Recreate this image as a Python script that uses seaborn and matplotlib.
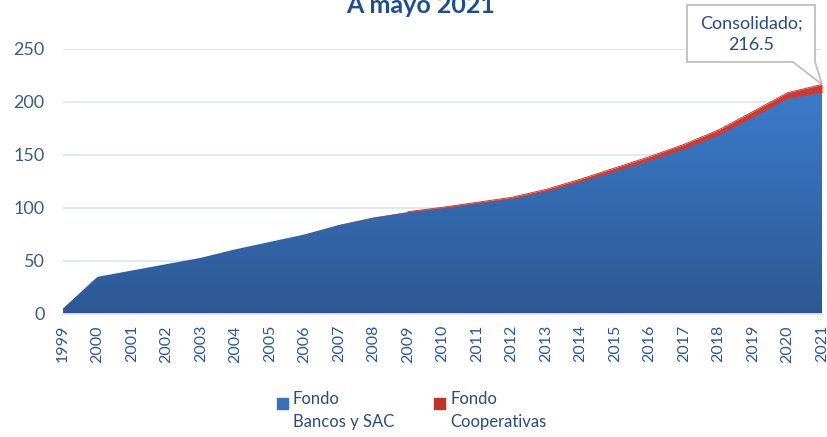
import numpy as np
import pandas as pd
import matplotlib
matplotlib.use("Agg")
import matplotlib.pyplot as plt
from matplotlib.colors import LinearSegmentedColormap
from matplotlib.patches import Rectangle, Polygon
import seaborn as sns

# Datos (miles de millones)
years = list(range(1999, 2022))
fondo_bancos = [5, 35, 41, 47, 53, 61, 68, 75, 84, 91, 96, 100, 104.5, 109,
                116, 125, 135, 145, 156, 169, 186, 203.5, 209]
fondo_coop = [0, 0, 0, 0, 0, 0, 0, 0, 0.2, 0.3, 0.5, 0.6, 0.8, 1.0,
              1.5, 2.2, 2.8, 3.4, 4.0, 4.6, 5.0, 5.2, 7.5]
titulo = "A mayo 2021"
etiqueta = "Consolidado;\n216.5"

df = pd.DataFrame({"anio": years, "bancos": fondo_bancos, "coop": fondo_coop})
df["total"] = df["bancos"] + df["coop"]

sns.set_style("white")
plt.rcParams["font.family"] = ["Lato", "DejaVu Sans"]

W, H = 827, 437
fig = plt.figure(figsize=(W / 100, H / 100), dpi=100)
ax = fig.add_axes([0.076, 0.2815, 0.918, 0.6065])

grid_c = "#DCE6F2"
for v in [50, 100, 150, 200, 250]:
    ax.axhline(v, color=grid_c, lw=1.3, zorder=0)

# ============================
# Área azul con degradado
# ============================
poly = ax.fill_between(df["anio"], 0, df["bancos"], color="none", lw=0, zorder=2)
cmap = LinearSegmentedColormap.from_list("azul", ["#2D5893", "#3C7BCB"])
grad = np.linspace(0, 1, 256).reshape(-1, 1)
img = ax.imshow(grad, cmap=cmap, origin="lower", aspect="auto",
                extent=[1999, 2021, 0, 212], zorder=2)
img.set_clip_path(poly.get_paths()[0], transform=ax.transData)

# Franja roja (cooperativas)
ax.fill_between(df["anio"], df["bancos"], df["total"], color="#CC3B33",
                lw=0, zorder=3)
sns.lineplot(data=df[df["anio"] >= 2009], x="anio", y="total",
             color="#CC3B33", lw=0.7, ax=ax, zorder=3)

ax.set_xlim(1999, 2021)
ax.set_ylim(0, 250)
ax.set_xticks(years)
ax.set_xticklabels([str(y) for y in years], rotation=90)
ax.set_yticks([0, 50, 100, 150, 200, 250])
ax.tick_params(axis="x", labelsize=11.5, length=6, width=1.3, pad=2,
               color=grid_c, labelcolor="#2F5597")
ax.tick_params(axis="y", length=0, labelsize=13, labelcolor="#3F5A80", pad=13)
for s in ["top", "right", "left"]:
    ax.spines[s].set_visible(False)
ax.spines["bottom"].set_color(grid_c)
ax.spines["bottom"].set_linewidth(1.3)
ax.set_xlabel("")
ax.set_ylabel("")

# Título (cortado arriba)
fig.text(0.509, 0.988, titulo, ha="center", va="center", fontsize=18,
         fontweight="bold", color="#1F4E8C")

# Etiqueta de dato tipo "callout"
fig.canvas.draw()
tip = ax.transData.transform((2021, df["total"].iloc[-1]))
tx, ty = tip[0], H - tip[1]  # en píxeles desde arriba
box = [(687, 5), (815, 5), (815, 62), (tx, ty), (793, 62), (687, 62)]
fig.add_artist(Polygon([(x / W, 1 - y / H) for x, y in box], closed=True,
                       transform=fig.transFigure, fc="white", ec="#BFBFBF",
                       lw=1.3, zorder=10))
fig.text(751 / W, 1 - 34 / H, etiqueta, ha="center", va="center",
         fontsize=13, color="#2B4A78", linespacing=1.4, zorder=11)

# Leyenda
for x0, col, lab in [(277, "#3A6FB8", "Fondo\nBancos y SAC"),
                     (434, "#C0332D", "Fondo\nCooperativas")]:
    fig.add_artist(Rectangle((x0 / W, 1 - 409 / H), 11 / W, 11 / H,
                             transform=fig.transFigure, color=col))
    fig.text((x0 + 16) / W, 1 - 391 / H, lab, ha="left", va="top",
             fontsize=12, color="#2B4A78", linespacing=1.55)

fig.savefig("out.png", dpi=100)
